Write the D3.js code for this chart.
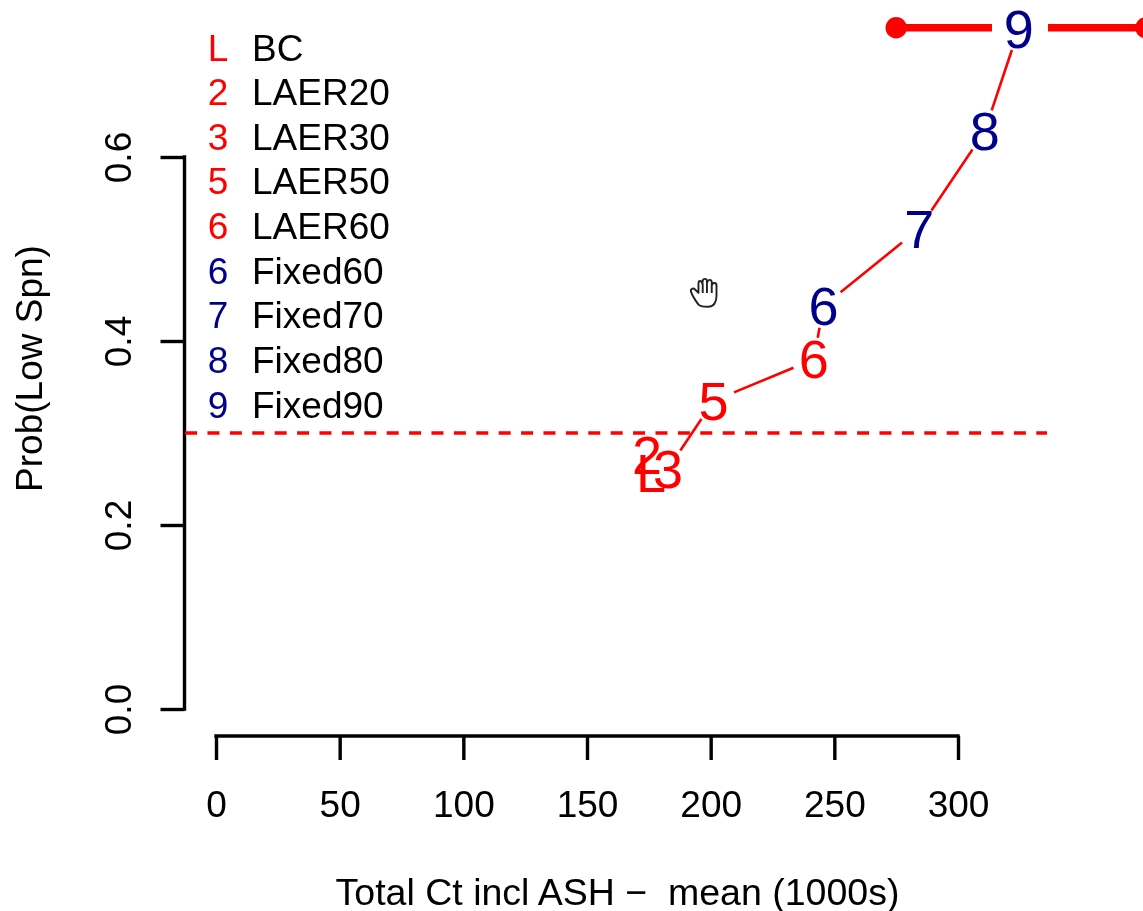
<!DOCTYPE html>
<html><head><meta charset="utf-8">
<script src="https://cdn.jsdelivr.net/npm/d3@7"></script>
<style>html,body{margin:0;background:#fff}svg{display:block;font-family:"Liberation Sans",Arial,sans-serif;filter:blur(0.45px)}</style>
</head><body><svg id="c" width="1143" height="911"></svg>
<script>
const pointLabels = ["L","2","3","5","6","6","7","8","9"];
const legendNames = ["BC","LAER20","LAER30","LAER50","LAER60","Fixed60","Fixed70","Fixed80","Fixed90"];
const groups = ["r","r","r","r","r","b","b","b","b"];
const totalCt = [175.9,174.3,182.8,201.2,241.7,245.6,284.3,310.8,324.6];
const probLow = [0.2565,0.276,0.261,0.335,0.380,0.438,0.522,0.628,0.739];
const xTicks = [0,50,100,150,200,250,300];
const yTicks = [0,0.2,0.4,0.6];
const refLevel = 0.3, refFrom = -12.5, refTo = 336;
const rangeBar = [275,376];
const rangeBarY = 0.7405;

const RED="#ff0000", NAVY="#00008b";
const color = g => g==="r"?RED:NAVY;
const svg = d3.select("#c");
const x = d3.scaleLinear().domain([0,300]).range([216,958]);
const y = d3.scaleLinear().domain([0,0.6]).range([709,157]);
const FS_TICK=37, FS_PT=54, FS_LEG=37;

// y axis
const gy = svg.append("g").attr("transform","translate(184.5,0)")
  .call(d3.axisLeft(y).tickValues(yTicks).tickFormat(d3.format(".1f")).tickSize(24).tickPadding(28));
gy.selectAll("path,line").attr("stroke","#000").attr("stroke-width",3.4);
gy.select("path").attr("d",`M0,${y(0)+1.7}V${y(0.6)-1.7}`);
gy.selectAll(".tick text").attr("font-size",FS_TICK).attr("font-family","inherit").attr("fill","#000")
  .attr("text-anchor","middle").attr("dy",0).attr("x",0).attr("y",0)
  .attr("transform","translate(-53.5,0) rotate(-90)");

// x axis
const gx = svg.append("g").attr("transform","translate(0,736)")
  .call(d3.axisBottom(x).tickValues(xTicks).tickFormat(d3.format("d")).tickSize(24).tickPadding(0));
gx.selectAll("path,line").attr("stroke","#000").attr("stroke-width",3.4);
gx.select("path").attr("d",`M${x(0)-1.7},0H${x(300)+1.7}`);
gx.selectAll(".tick text").attr("font-size",FS_TICK).attr("font-family","inherit").attr("fill","#000")
  .attr("dy",0).attr("y",81);

svg.append("text").attr("x",617.5).attr("y",905).attr("text-anchor","middle").attr("font-size",37.5).attr("fill","#000")
  .attr("xml:space","preserve").text("Total Ct incl ASH \u2212  mean (1000s)");
svg.append("text").attr("transform","translate(42,368.5) rotate(-90)").attr("text-anchor","middle").attr("font-size",FS_TICK).attr("fill","#000")
  .text("Prob(Low Spn)");

// reference line
svg.append("line").attr("x1",x(refFrom)).attr("x2",x(refTo)).attr("y1",y(refLevel)).attr("y2",y(refLevel))
  .attr("stroke",RED).attr("stroke-width",3.4).attr("stroke-dasharray","12 10.4");

// connecting segments with gaps (type "b")
const pts = totalCt.map((v,i)=>({px:x(v),py:y(probLow[i]),lab:pointLabels[i],g:groups[i]}));
const GAP=22;
const segs = d3.pairs(pts).map(([a,b])=>{
  const dx=b.px-a.px, dy=b.py-a.py, d=Math.hypot(dx,dy);
  if(d<=2*GAP) return null;
  return {x1:a.px+dx/d*GAP,y1:a.py+dy/d*GAP,x2:b.px-dx/d*GAP,y2:b.py-dy/d*GAP};
}).filter(Boolean);
svg.append("g").selectAll("line").data(segs).join("line")
  .attr("x1",d=>d.x1).attr("y1",d=>d.y1).attr("x2",d=>d.x2).attr("y2",d=>d.y2)
  .attr("stroke",RED).attr("stroke-width",2.6);

// range bar
const by=y(rangeBarY), gapL=992, gapR=1048;
const bar=svg.append("g");
bar.append("line").attr("x1",x(rangeBar[0])).attr("x2",gapL).attr("y1",by).attr("y2",by).attr("stroke",RED).attr("stroke-width",7.3);
bar.append("line").attr("x1",gapR).attr("x2",x(rangeBar[1])).attr("y1",by).attr("y2",by).attr("stroke",RED).attr("stroke-width",7.3);
bar.selectAll("circle").data(rangeBar).join("circle").attr("cx",d=>x(d)).attr("cy",by).attr("r",10.7).attr("fill",RED);

// point labels
svg.append("g").selectAll("text").data(pts).join("text")
  .attr("x",d=>d.px).attr("y",d=>d.py+19).attr("text-anchor","middle")
  .attr("font-size",FS_PT).attr("fill",d=>color(d.g)).text(d=>d.lab);

// legend
const ly=d3.scalePoint().domain(legendNames).range([48,405]);
const leg=svg.append("g").selectAll("g").data(legendNames).join("g").attr("transform",d=>`translate(0,${ly(d)+12.5})`);
leg.append("text").attr("x",218).attr("text-anchor","middle").attr("font-size",FS_LEG)
  .attr("fill",(d,i)=>color(groups[i])).text((d,i)=>pointLabels[i]);
leg.append("text").attr("x",252).attr("font-size",FS_LEG).attr("fill","#000").text(d=>d);

// hand cursor from the screen capture
const hand=svg.append("g").attr("transform","translate(690,277) scale(1.06)").attr("fill","#fff").attr("stroke","#222").attr("stroke-width",1.8).attr("stroke-linejoin","round");
hand.append("path").attr("d","M8,26 C5,22 2,17 1,14 C0,11 3,10 5,12 L8,15 L8,6 C8,3 11,3 11.5,6 L12,4 C12,1 16,1 16,4 L16.5,4.5 C17,2 20.5,2 20.5,5 L21,7 C21.5,5 25,5 25,8 L25,18 C25,23 23,28 17,28 C12,28 10,28 8,26 Z");
hand.append("path").attr("d","M12,6V15M16,4V15M20.5,6V15").attr("fill","none");
</script></body></html>
